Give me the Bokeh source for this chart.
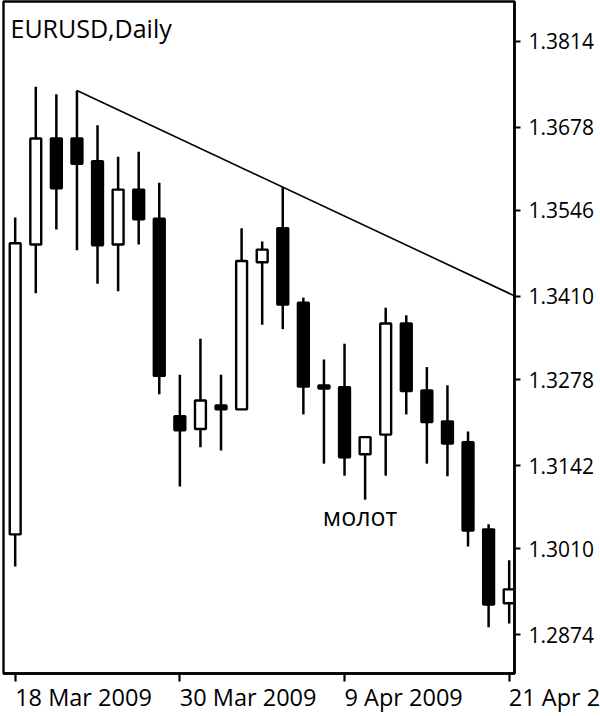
from bokeh.plotting import figure
from bokeh.models import Range1d, FixedTicker, Label, ColumnDataSource, PrintfTickFormatter
from bokeh.embed import file_html
from bokeh.resources import INLINE

# ---- data (EURUSD daily) ----
dates = ["18 Mar 2009", "19 Mar 2009", "20 Mar 2009", "23 Mar 2009", "24 Mar 2009",
         "25 Mar 2009", "26 Mar 2009", "27 Mar 2009", "30 Mar 2009", "31 Mar 2009",
         "1 Apr 2009", "2 Apr 2009", "3 Apr 2009", "6 Apr 2009", "7 Apr 2009",
         "8 Apr 2009", "9 Apr 2009", "10 Apr 2009", "13 Apr 2009", "14 Apr 2009",
         "15 Apr 2009", "16 Apr 2009", "17 Apr 2009", "20 Apr 2009", "21 Apr 2009"]
opens  = [1.3033, 1.3492, 1.3660, 1.3660, 1.3624, 1.3492, 1.3579, 1.3533, 1.3220, 1.3200,
          1.3237, 1.3231, 1.3464, 1.3518, 1.3400, 1.3269, 1.3266, 1.3160, 1.3191, 1.3367,
          1.3261, 1.3212, 1.3179, 1.3041, 1.2924]
highs  = [1.3535, 1.3742, 1.3730, 1.3736, 1.3681, 1.3631, 1.3639, 1.3590, 1.3286, 1.3343,
          1.3286, 1.3518, 1.3497, 1.3583, 1.3408, 1.3310, 1.3335, 1.3187, 1.3392, 1.3380,
          1.3298, 1.3269, 1.3196, 1.3049, 1.2992]
lows   = [1.2982, 1.3415, 1.3516, 1.3483, 1.3430, 1.3418, 1.3492, 1.3255, 1.3109, 1.3171,
          1.3166, 1.3231, 1.3365, 1.3358, 1.3223, 1.3145, 1.3126, 1.3088, 1.3126, 1.3223,
          1.3145, 1.3125, 1.3014, 1.2886, 1.2892]
closes = [1.3494, 1.3660, 1.3581, 1.3620, 1.3491, 1.3579, 1.3532, 1.3284, 1.3198, 1.3245,
          1.3231, 1.3466, 1.3484, 1.3397, 1.3267, 1.3264, 1.3155, 1.3187, 1.3367, 1.3260,
          1.3211, 1.3177, 1.3039, 1.2922, 1.2946]

price_ticks = [1.2874, 1.3010, 1.3142, 1.3278, 1.3410, 1.3546, 1.3678, 1.3814]
date_tick_labels = ["18 Mar 2009", "30 Mar 2009", "9 Apr 2009", "21 Apr 2009"]

trend_days = ["23 Mar 2009", "6 Apr 2009"]   # trendline drawn through these highs
title_text = "EURUSD,Daily"
note_text = "молот"
note_day = "10 Apr 2009"
note_price = 1.3044

FONT = "Open Sans"

# ---- derived ----
idx = list(range(len(dates)))
tops = [max(o, c) for o, c in zip(opens, closes)]
bots = [min(o, c) for o, c in zip(opens, closes)]
fills = ["white" if c > o else "black" for o, c in zip(opens, closes)]
src = ColumnDataSource(dict(x=idx, high=highs, low=lows, top=tops, bottom=bots, fill=fills))

# canvas is a little larger than the window so the last date label runs off the edge
W, H = 640, 732
FRAME_L, FRAME_R, FRAME_T, FRAME_B = 3, 514, 1, 673
x_range = Range1d(-0.568, 24.258)
y_range = Range1d(1.28127, 1.38769)

p = figure(width=W, height=H, x_range=x_range, y_range=y_range,
           y_axis_location="right", output_backend="svg", toolbar_location=None,
           min_border_left=FRAME_L, min_border_top=FRAME_T, min_border_right=W - FRAME_R,
           min_border_bottom=H - FRAME_B, margin=(0, 600 - W, 716 - H, 0),
           background_fill_color="white", border_fill_color="white")
p.xgrid.visible = False
p.ygrid.visible = False
p.outline_line_color = "black"
p.outline_line_width = 2.4

for ax in (p.xaxis[0], p.yaxis[0]):
    ax.axis_line_width = 2.5
    ax.axis_line_color = "black"
    ax.major_tick_line_width = 2.2
    ax.major_tick_line_color = "black"
    ax.major_tick_in = 0
    ax.minor_tick_line_color = None
    ax.major_label_text_font = FONT
    ax.major_label_text_color = "black"

p.yaxis.ticker = FixedTicker(ticks=price_ticks)
p.yaxis.formatter = PrintfTickFormatter(format="%.4f")
p.yaxis.major_tick_out = 6
p.yaxis.major_label_standoff = 8
p.yaxis.major_label_text_font_size = "21px"

x_ticks = [dates.index(d) for d in date_tick_labels]
p.xaxis.ticker = FixedTicker(ticks=x_ticks)
p.xaxis.major_label_overrides = {t: d for t, d in zip(x_ticks, date_tick_labels)}
p.xaxis.major_tick_out = 8
p.xaxis.major_label_text_font_size = "23.5px"
# a vanishingly small negative angle makes Bokeh left-align the labels at their ticks
p.xaxis.major_label_orientation = -1e-4
p.xaxis.major_label_standoff = 15

# trendline
t0, t1 = dates.index(trend_days[0]), dates.index(trend_days[1])
slope = (highs[t1] - highs[t0]) / (t1 - t0)
x_end = x_range.end + 1
p.line([t0, x_end], [highs[t0], highs[t0] + slope * (x_end - t0)],
       line_color="black", line_width=1.6)

# candles
p.segment(x0="x", y0="low", x1="x", y1="high", source=src, line_color="black", line_width=2.5)
p.vbar(x="x", width=0.53, top="top", bottom="bottom", source=src,
       fill_color="fill", line_color="black", line_width=2.4)

p.add_layout(Label(x=x_range.start, y=price_ticks[-1], x_offset=7, y_offset=13,
                   text=title_text, text_font=FONT, text_font_size="25px",
                   text_color="black", text_baseline="alphabetic"))
p.add_layout(Label(x=dates.index(note_day), y=note_price, x_offset=-5, y_offset=11,
                   text=note_text, text_font=FONT, text_font_size="25px",
                   text_color="black", text_align="center", text_baseline="alphabetic"))

open("out.html", "w").write(file_html(p, INLINE))
